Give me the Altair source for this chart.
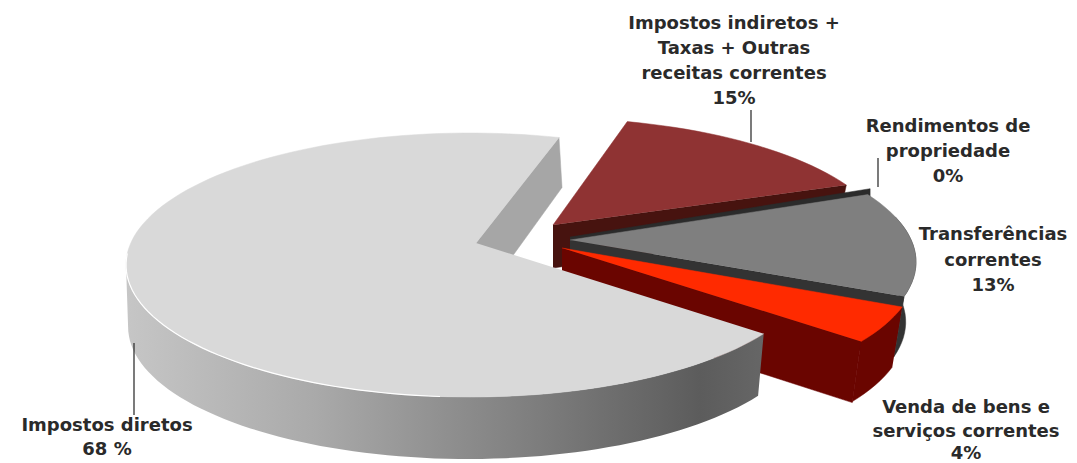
import math
import altair as alt
import pandas as pd

# --- chart values ---
categories = ["Impostos diretos", "Impostos indiretos + Taxas + Outras receitas correntes",
              "Rendimentos de propriedade", "Transferências correntes",
              "Venda de bens e serviços correntes"]
shares = [68, 15, 0.3, 13, 4]
top_colors = ["#d9d9d9", "#8f3333", "#2b2b2b", "#7f7f7f", "#ff2a00"]
side_colors = ["#a6a6a6", "#47130f", "#2b2b2b", "#333333", "#6a0500"]

label_lines = ["Impostos indiretos +", "Taxas + Outras", "receitas correntes", "15%",
               "Rendimentos de", "propriedade", "0%",
               "Transferências", "correntes", "13%",
               "Venda de bens e", "serviços correntes", "4%",
               "Impostos diretos", "68 %"]
label_x = [734, 734, 734, 734, 948, 948, 948, 993, 993, 993, 966, 966, 966, 107, 107]
label_y = [24, 49, 74, 99, 127, 152, 177, 235, 261, 286, 408, 432, 454, 426, 450]

A, B = 344.0, 132.0


class Slice:
    def __init__(self, i, cx, cy, ax, ay, start, stretch, direction=1):
        self.cx, self.cy, self.ax, self.ay = cx, cy, ax, ay
        self.t0 = start
        self.t1 = start + direction * shares[i] * 3.6 * stretch

    def ts(self, a, b, step=2.0):
        n = max(1, int(abs(b - a) / step))
        return [a + (b - a) * k / n for k in range(n + 1)]

    def top(self, t):
        r = math.radians(t)
        return self.cx + A * math.cos(r), self.cy + B * math.sin(r)

    def bot(self, t, depth, scale=0.97, shift=0.0):
        r = math.radians(t)
        return self.cx + shift + A * scale * math.cos(r), self.cy + depth + B * math.sin(r)

    def surface(self):
        return [(self.ax, self.ay)] + [self.top(t) for t in self.ts(self.t0, self.t1)]

    def wall(self, a, b, depth, scale=0.97, shift=0.0):
        return ([self.top(t) for t in self.ts(a, b)] +
                [self.bot(t, depth, scale, shift) for t in self.ts(b, a)])

    def edge_wall(self, t, depth, scale=0.97, shift=0.0):
        return [(self.ax, self.ay), self.top(t), self.bot(t, depth, scale, shift),
                (self.ax, self.ay + depth)]


big = Slice(0, 470, 265, 476, 243, -75, 1.036, -1)
brown = Slice(1, 547, 250, 553, 225, -76.5, 0.87)
sliver = Slice(2, 579, 259, 570, 237, -32.2, 1.0)
grey = Slice(3, 572, 262, 570, 240, -30.7, 0.98)
red = Slice(4, 572, 270, 562, 248, 16.3, 1.15)

x_scale = alt.Scale(domain=[8, 1069], nice=False, zero=False)
y_scale = alt.Scale(domain=[463, 8], nice=False, zero=False)


def poly(points, **mark):
    df = pd.DataFrame({"x": [round(p[0], 1) for p in points],
                       "y": [round(p[1], 1) for p in points],
                       "o": list(range(len(points)))})
    return alt.Chart(df).mark_line(**mark).encode(
        x=alt.X("x:Q", scale=x_scale, axis=None),
        y=alt.Y("y:Q", scale=y_scale, axis=None),
        order="o:Q",
    )


def solid(points, color):
    return poly(points, fill=color, stroke=color, strokeWidth=0.5)


gradient = alt.Gradient(
    gradient="linear", x1=0, x2=1, y1=0, y2=0,
    stops=[alt.GradientStop(offset=0, color="#c6c6c6"),
           alt.GradientStop(offset=0.3, color="#a9a9a9"),
           alt.GradientStop(offset=0.6, color="#838383"),
           alt.GradientStop(offset=0.9, color="#5c5c5c"),
           alt.GradientStop(offset=1, color="#666666")],
)

layers = [
    # brown slice
    solid(brown.edge_wall(brown.t1, 43), side_colors[1]),
    solid(brown.surface(), top_colors[1]),
    # thin slice
    solid(sliver.edge_wall(sliver.t0, 13, 1.0), side_colors[2]),
    # grey slice
    solid(grey.wall(-20, grey.t1, 60), side_colors[3]),
    solid(grey.edge_wall(grey.t1, 60), side_colors[3]),
    solid(grey.surface(), top_colors[3]),
    # red slice
    solid(red.edge_wall(red.t1, 61), side_colors[4]),
    solid(red.wall(red.t0, red.t1, 60), side_colors[4]),
    solid(red.surface(), top_colors[4]),
    # big slice: rear cut, front wall, top
    solid([(big.ax, big.ay), big.top(big.t0),
           (big.top(big.t0)[0] + 3, big.top(big.t0)[1] + 50),
           (big.ax + 2, big.ay + 61)], side_colors[0]),
    poly(big.wall(-180, big.t1, 62, 0.988, -2), fill=gradient, strokeWidth=0),
    solid(big.surface(), top_colors[0]),
    poly([big.top(t) for t in big.ts(-175, -265)], stroke="#ffffff", strokeWidth=1.2),
]

# leader lines
for seg in [[(134, 343), (134, 415)], [(751, 110), (751, 142)], [(878, 158), (878, 187)]]:
    layers.append(poly(seg, stroke="#333333", strokeWidth=1.3))

labels = pd.DataFrame({"t": label_lines, "x": label_x, "y": label_y})
layers.append(
    alt.Chart(labels).mark_text(font="DejaVu Sans", fontWeight="bold", fontSize=18,
                                color="#2a2a2a", align="center", baseline="middle").encode(
        x=alt.X("x:Q", scale=x_scale, axis=None),
        y=alt.Y("y:Q", scale=y_scale, axis=None),
        text="t:N",
    )
)

chart = alt.layer(*layers).properties(
    width=1061, height=455, padding=0,
    autosize=alt.AutoSizeParams(type="none"),
).configure_view(stroke=None)

chart.save("out.html", embed_options={"renderer": "svg", "actions": False})
